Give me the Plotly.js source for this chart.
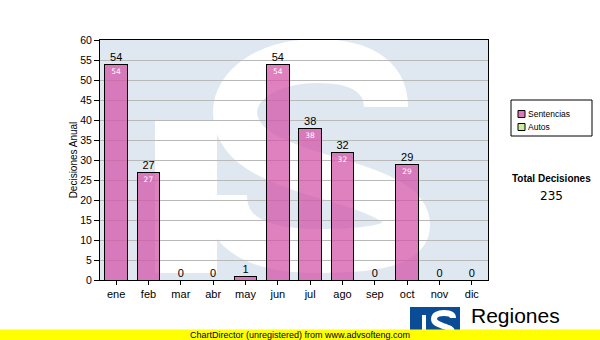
<!DOCTYPE html>
<html>
<head>
<meta charset="utf-8">
<script src="https://cdn.plot.ly/plotly-3.0.1.min.js"></script>
<style>html,body{margin:0;padding:0;background:#fff}#chart{width:600px;height:340px}</style>
</head>
<body>
<div id="chart"></div>
<script>
const months = ["ene","feb","mar","abr","may","jun","jul","ago","sep","oct","nov","dic"];
const sentencias = [54,27,0,0,1,54,38,32,0,29,0,0];
const autos = [0,0,0,0,0,0,0,0,0,0,0,0];
const seriesNames = ["Sentencias","Autos"];
const seriesColors = ["rgba(212,86,170,0.75)","#ccee99"];
const legendColors = ["#dd77bb","#ccee99"];
const yTitle = "Decisiones Anual";
const totalLabel = "Total Decisiones";

const totals = months.map((m,i)=>sentencias[i]+autos[i]);
const grandTotal = totals.reduce((a,b)=>a+b,0);
const insideText = sentencias.map(v => v >= 3 ? String(v) : "");

const wm = '<svg xmlns="http://www.w3.org/2000/svg" viewBox="0 0 388 240" preserveAspectRatio="none" width="388" height="240">' +
  '<rect width="388" height="240" fill="#dfe8f1"/>' +
  '<rect x="55" y="80" width="62" height="153" fill="#ffffff"/>' +
  '<path d="M 286 67 C 286 35, 258 21, 218 21 C 168 21, 135 45, 135 72 C 135 105, 170 120, 218 135 C 280 152, 308 165, 308 185 C 308 205, 272 211, 218 211 C 160 211, 125 195, 125 155" stroke="#ffffff" stroke-width="44" fill="none"/>' +
  '</svg>';
const logo = '<svg xmlns="http://www.w3.org/2000/svg" viewBox="0 0 50 33" preserveAspectRatio="none" width="50" height="33">' +
  '<rect width="50" height="33" fill="#0b4c97"/>' +
  '<rect x="12" y="8" width="4" height="25" fill="#ffffff"/>' +
  '<path d="M 43 11 C 43 7, 39 6, 34 6 C 28 6, 24 8, 24 12 C 24 16, 28 17, 33 19 C 39 21, 42 22, 42 25 C 42 29, 37 30, 33 30 C 28 30, 24 28, 24 25" stroke="#ffffff" stroke-width="6" fill="none"/>' +
  '</svg>';
const uri = s => 'data:image/svg+xml;charset=utf-8,' + encodeURIComponent(s);

const traces = [
  {type:'bar', name:seriesNames[0], x:months, y:sentencias, text:insideText, textposition:'inside',
   insidetextanchor:'end', constraintext:'none', textangle:0,
   insidetextfont:{family:'DejaVu Sans', size:7.5, color:'#fff'},
   marker:{color:seriesColors[0], line:{color:'#000', width:1}}, hoverinfo:'none', showlegend:false},
  {type:'bar', name:seriesNames[1], x:months, y:autos,
   marker:{color:seriesColors[1], line:{color:'#000', width:1}}, hoverinfo:'none', showlegend:false},
  {type:'scatter', mode:'text', x:months, y:totals, text:totals.map(String), textposition:'top center',
   textfont:{family:'Liberation Sans, Arial', size:11, color:'#000'}, showlegend:false, cliponaxis:false, hoverinfo:'none'}
];

const px = v => (v-100)/388;
const py = v => (280-v)/240;

const shapes = [
  {type:'rect', xref:'paper', yref:'paper', x0:px(511), x1:px(592), y0:py(136), y1:py(100), line:{color:'#000', width:1}, fillcolor:'#fff', layer:'above'}
];
const annotations = [];
seriesNames.forEach((nm,i)=>{
  const yc = 114 + i*13;
  shapes.push({type:'rect', xref:'paper', yref:'paper', x0:px(518), x1:px(525), y0:py(yc+3.5), y1:py(yc-3.5),
               line:{color:'#000', width:1}, fillcolor:legendColors[i], layer:'above'});
  annotations.push({text:nm, xref:'paper', yref:'paper', x:px(526), y:py(yc), xanchor:'left', yanchor:'middle', showarrow:false,
                    font:{size:8.5, family:'Liberation Sans, Arial', color:'#000'}});
});
annotations.push(
  {text:'<b>'+totalLabel+'</b>', xref:'paper', yref:'paper', x:px(551), y:py(178), xanchor:'center', yanchor:'middle', showarrow:false,
   font:{size:10, family:'Liberation Sans, Arial', color:'#000'}},
  {text:String(grandTotal), xref:'paper', yref:'paper', x:px(551), y:py(196), xanchor:'center', yanchor:'middle', showarrow:false,
   font:{size:12, family:'DejaVu Sans', color:'#000'}},
  {text:'Regiones', xref:'paper', yref:'paper', x:px(469), y:py(315), xanchor:'left', yanchor:'middle', showarrow:false,
   font:{size:21, family:'Liberation Sans, Arial', color:'#000'}},
  {text:'Tribunal Contencioso Administrativo', xref:'paper', yref:'paper', x:px(469), y:py(332), xanchor:'left', yanchor:'middle', showarrow:false,
   font:{size:7.5, family:'Liberation Sans, Arial', color:'#000'}},
  {text:'ChartDirector (unregistered) from www.advsofteng.com', xref:'paper', yref:'paper', x:px(300), y:py(335), xanchor:'center', yanchor:'middle',
   showarrow:false, width:600, height:10, borderpad:0, bgcolor:'#ffff00',
   font:{size:9, family:'Liberation Sans, Arial', color:'#000'}}
);

const layout = {
  width:600, height:340,
  margin:{l:100, r:112, t:40, b:60, pad:0},
  paper_bgcolor:'#ffffff', plot_bgcolor:'#dfe8f1',
  barmode:'stack', bargap:0.29,
  font:{family:'Liberation Sans, Arial', color:'#000'},
  xaxis:{type:'category', range:[-0.5,11.5], showline:true, linecolor:'#000', linewidth:1, mirror:true,
         ticks:'outside', ticklen:4, tickcolor:'#000', showgrid:false, zeroline:false,
         tickfont:{size:11, family:'Liberation Sans, Arial', color:'#000'}},
  yaxis:{range:[0,60], dtick:5, tick0:0, showline:true, linecolor:'#000', linewidth:1, mirror:true,
         ticks:'outside', ticklen:5, tickcolor:'#000', gridcolor:'#b9b9b9', zeroline:false,
         tickfont:{size:10.5, family:'Liberation Sans, Arial', color:'#000'},
         title:{text:yTitle, font:{size:10, family:'Liberation Sans, Arial', color:'#000'}, standoff:0}},
  showlegend:false,
  shapes:shapes,
  images:[
    {source:uri(wm), xref:'paper', yref:'paper', x:0, y:1, sizex:1, sizey:1, xanchor:'left', yanchor:'top', sizing:'stretch', layer:'below'},
    {source:uri(logo), xref:'paper', yref:'paper', x:px(410), y:py(307), sizex:50/388, sizey:33/240, xanchor:'left', yanchor:'top', sizing:'stretch', layer:'above'}
  ],
  annotations:annotations
};

Plotly.newPlot('chart', traces, layout, {displayModeBar:false, staticPlot:true});
</script>
</body>
</html>
